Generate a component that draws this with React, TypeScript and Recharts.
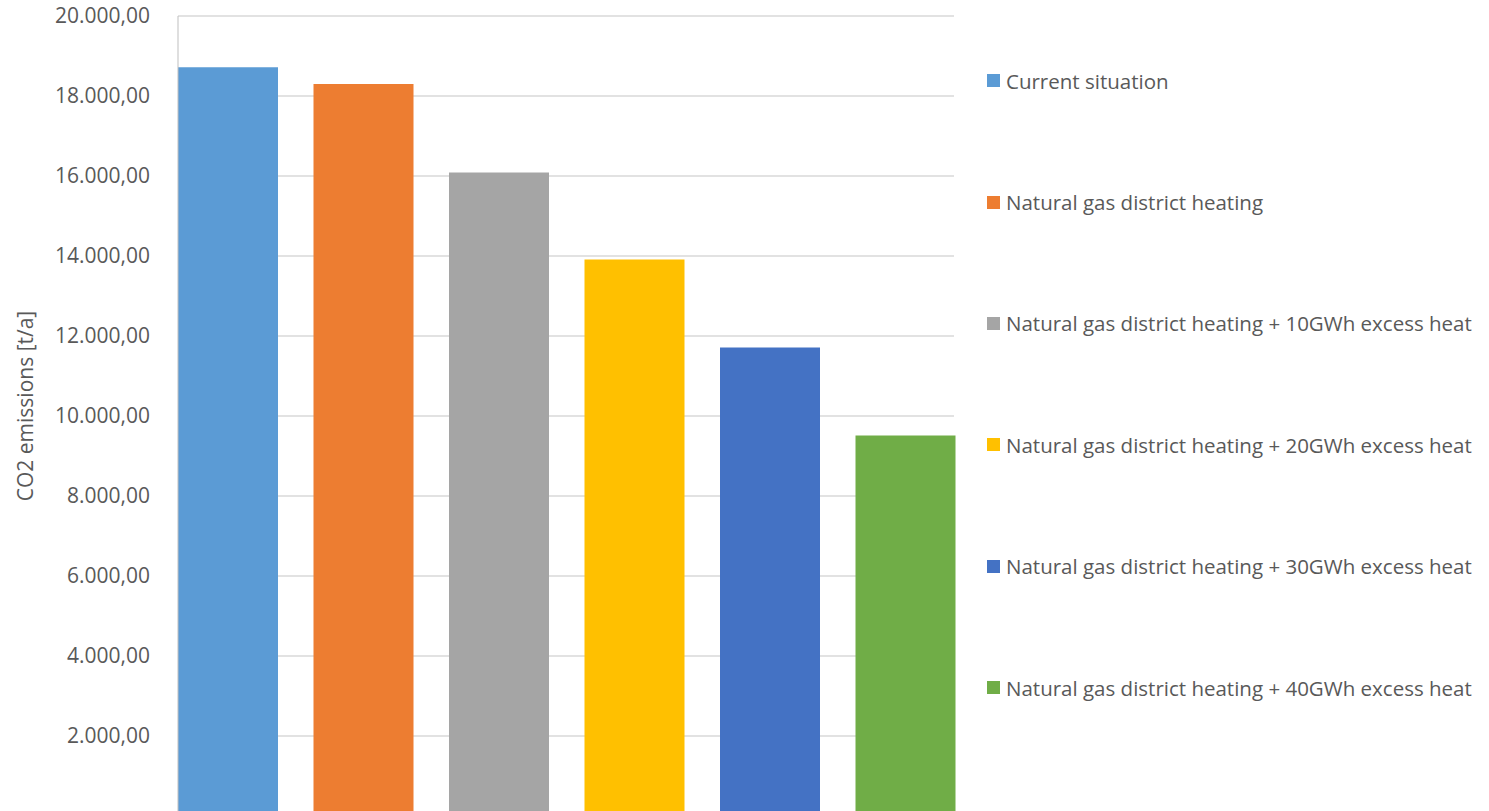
import { BarChart, Bar, XAxis, YAxis, CartesianGrid, Legend, Label } from 'recharts';

const seriesNames = [
  'Current situation',
  'Natural gas district heating',
  'Natural gas district heating + 10GWh excess heat',
  'Natural gas district heating + 20GWh excess heat',
  'Natural gas district heating + 30GWh excess heat',
  'Natural gas district heating + 40GWh excess heat',
];

// CO2 emissions in t/a per scenario
const emissions = [18720, 18300, 16090, 13910, 11710, 9510];

const seriesColors = ['#5B9BD5', '#ED7D31', '#A5A5A5', '#FFC000', '#4472C4', '#70AD47'];

const yTicks = [2000, 4000, 6000, 8000, 10000, 12000, 14000, 16000, 18000, 20000];

const row: Record<string, number | string> = { category: '' };
seriesNames.forEach((_, i) => {
  row[`s${i}`] = emissions[i];
});
const data = [row];

const textColor = '#595959';
const fontFamily = '"Open Sans", sans-serif';

// 20000 -> "20.000,00"
function formatValue(v: number) {
  const whole = Math.round(v)
    .toString()
    .replace(/\B(?=(\d{3})+(?!\d))/g, '.');
  return `${whole},00`;
}

function renderLegend(props: any) {
  const { payload } = props;
  return (
    <div style={{ fontFamily }}>
      {payload.map((entry: any) => (
        <div
          key={entry.value}
          style={{ height: 121.4, display: 'flex', alignItems: 'center', whiteSpace: 'nowrap' }}
        >
          <span
            style={{ width: 13, height: 13, background: entry.color, display: 'inline-block', marginRight: 6 }}
          />
          <span style={{ color: textColor, fontSize: 20.5 }}>{entry.value}</span>
        </div>
      ))}
    </div>
  );
}

function AxisTitle(props: any) {
  const { viewBox } = props;
  const x = viewBox.x + 25;
  const y = viewBox.y + viewBox.height / 2 - 10;
  return (
    <text
      x={x}
      y={y}
      transform={`rotate(-90, ${x}, ${y})`}
      textAnchor="middle"
      dominantBaseline="central"
      fill={textColor}
      fontSize={21}
      fontFamily={fontFamily}
    >
      CO2 emissions [t/a]
    </text>
  );
}

export default function App() {
  return (
    <div style={{ position: 'absolute', left: 0, top: 0, width: 1489, height: 816, fontFamily, background: '#fff' }}>
      <BarChart
        width={1489}
        height={816}
        data={data}
        margin={{ top: 16, right: 535, bottom: 0, left: 0 }}
        barCategoryGap={0}
        barGap={35.5}
      >
        <CartesianGrid vertical={false} stroke="#d9d9d9" strokeWidth={1.5} />
        <XAxis dataKey="category" hide />
        <YAxis
          domain={[0, 20000]}
          ticks={yTicks}
          tickFormatter={formatValue}
          width={178}
          axisLine={{ stroke: '#bfbfbf' }}
          tickLine={false}
          tickSize={0}
          tickMargin={28}
          tick={{ fill: textColor, fontSize: 21 }}
          label={<Label content={<AxisTitle />} />}
        />
        <YAxis
          yAxisId="frame"
          orientation="right"
          domain={[0, 20000]}
          width={0}
          tick={false}
          tickLine={false}
          axisLine={{ stroke: '#bfbfbf' }}
        />
        <Legend
          layout="horizontal"
          verticalAlign="middle"
          align="center"
          wrapperStyle={{ left: 987, top: 20, width: 502 }}
          content={renderLegend}
        />
        {seriesNames.map((name, i) => (
          <Bar key={name} dataKey={`s${i}`} name={name} fill={seriesColors[i]} isAnimationActive={false} />
        ))}
      </BarChart>
    </div>
  );
}
